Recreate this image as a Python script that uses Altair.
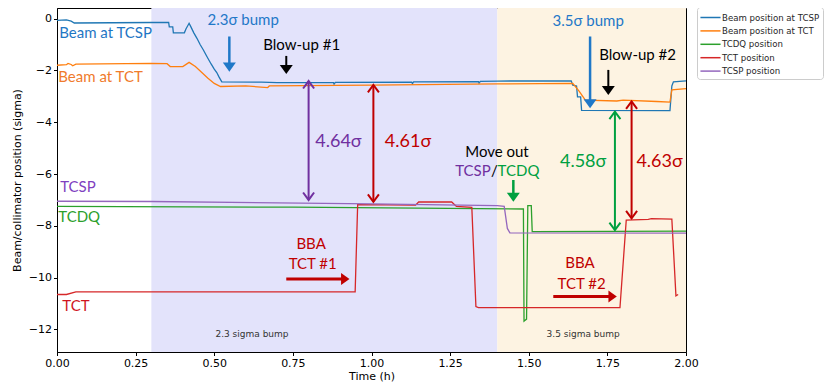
import altair as alt
import pandas as pd

# ---------------- data ----------------
series_names = ["Beam position at TCSP", "Beam position at TCT", "TCDQ position",
                "TCT position", "TCSP position"]
series_colors = ["#1f77b4", "#ff7f0e", "#2ca02c", "#d62728", "#9467bd"]

beam_tcsp_t = [0.0, 0.03, 0.045, 0.055, 0.30, 0.355, 0.357, 0.368, 0.370, 0.405, 0.41, 0.42,
               0.425, 0.435, 0.445, 0.455, 0.465, 0.477, 0.49, 0.50, 0.508, 0.515, 0.524,
               0.65, 0.70, 0.879, 0.881, 0.885, 1.128, 1.13, 1.134, 1.34, 1.342, 1.346,
               1.40, 1.635, 1.64, 1.652, 1.655, 1.665, 1.668, 1.949, 1.955, 1.96, 2.0]
beam_tcsp_y = [-0.07, -0.05, -0.10, -0.17, -0.15, -0.15, -0.32, -0.32, -0.55, -0.55, -0.40, -0.18,
               -0.30, -0.55, -0.76, -1.00, -1.20, -1.47, -1.75, -1.95, -2.08, -2.25, -2.44,
               -2.45, -2.47, -2.47, -2.53, -2.46, -2.45, -2.51, -2.44, -2.43, -2.49, -2.42,
               -2.41, -2.40, -2.57, -2.60, -3.02, -3.02, -3.54, -3.55, -2.60, -2.44, -2.40]

beam_tct_t = [0.0, 0.03, 0.035, 0.045, 0.05, 0.06, 0.30, 0.35, 0.36, 0.40, 0.42, 0.44, 0.48,
              0.50, 0.52, 0.60, 0.67, 0.675, 1.0, 1.40, 1.64, 1.66, 1.68, 1.78, 1.80, 1.907,
              1.949, 1.955, 2.0]
beam_tct_y = [-1.80, -1.78, -1.73, -1.77, -1.82, -1.76, -1.73, -1.74, -1.85, -1.85, -1.69, -1.85,
              -2.30, -2.50, -2.62, -2.60, -2.66, -2.60, -2.57, -2.52, -2.50, -2.80, -3.15,
              -3.18, -3.15, -3.20, -3.22, -2.75, -2.70]

tcdq_t = [0.0, 0.75, 1.483, 1.485, 1.493, 1.497, 1.508, 1.511, 2.0]
tcdq_y = [-7.25, -7.28, -7.35, -11.68, -11.60, -7.22, -7.22, -8.22, -8.20]

tct_t = [0.0, 0.03, 0.06, 0.948, 0.956, 1.14, 1.15, 1.255, 1.27, 1.319, 1.332, 1.34, 1.79,
         1.81, 1.88, 1.89, 1.955, 1.968, 1.975]
tct_y = [-10.65, -10.65, -10.55, -10.55, -7.18, -7.20, -7.08, -7.08, -7.25, -7.29, -11.12,
         -11.16, -11.16, -7.78, -7.75, -7.72, -7.74, -10.70, -10.65]

tcsp_t = [0.0, 0.30, 1.0, 1.40, 1.422, 1.432, 1.44, 2.0]
tcsp_y = [-7.05, -7.06, -7.15, -7.22, -7.25, -8.10, -8.27, -8.28]

# shaded regions
region_start = [0.3, 1.4]
region_end = [1.4, 2.0]
region_color = ["#e3e3fb", "#fdf3e2"]
region_label = ["2.3 sigma bump", "3.5 sigma bump"]
region_label_x = [0.62, 1.673]
region_label_y = [-12.17, -12.17]

# annotation arrows
arrow_x0 = [0.548, 0.729, 0.800, 1.006, 1.451, 1.695, 1.753, 1.774, 1.827, 0.729, 1.578]
arrow_y0 = [-0.69, -1.44, -2.41, -2.56, -6.23, -0.69, -1.98, -3.59, -3.20, -10.05, -10.73]
arrow_x1 = [0.548, 0.729, 0.800, 1.006, 1.451, 1.695, 1.753, 1.774, 1.827, 0.930, 1.780]
arrow_y1 = [-2.05, -2.14, -7.00, -7.07, -7.07, -3.46, -2.95, -8.16, -7.71, -10.05, -10.73]
arrow_color = ["#1f78c8", "#000000", "#7030a0", "#c00000", "#00a040", "#1f78c8", "#000000",
               "#00a040", "#c00000", "#c00000", "#c00000"]
arrow_width = [2.5, 2, 2, 2, 2.5, 2.5, 2, 2, 2, 3, 3]
arrow_kind = ["down", "down", "double", "double", "down", "down", "down", "double", "double",
              "right", "right"]

# annotation texts
text_str = ["2.3σ bump", "Blow-up #1", "4.64σ", "4.61σ", "Move out", "3.5σ bump", "Blow-up #2",
            "4.58σ", "4.63σ", "BBA", "TCT #1", "BBA", "TCT #2", "/"]
text_x = [0.592, 0.778, 0.895, 1.116, 1.399, 1.689, 1.846, 1.673, 1.916, 0.808, 0.813, 1.663,
          1.668, 1.391]
text_y = [-0.05, -1.02, -4.75, -4.75, -5.13, -0.08, -1.40, -5.52, -5.52, -8.71, -9.47, -9.44,
          -10.24, -5.88]
text_color = ["#1f78c8", "#000000", "#7030a0", "#c00000", "#000000", "#1f78c8", "#000000",
              "#00a040", "#c00000", "#c00000", "#c00000", "#c00000", "#c00000", "#000000"]
text_size = [15, 15, 18, 18, 15, 15, 15, 18, 18, 15, 15, 15, 15, 15]

left_text = ["Beam at TCSP", "Beam at TCT", "TCSP", "TCDQ", "TCT", "TCDQ"]
left_x = [0.007, 0.004, 0.010, 0.004, 0.017, 1.401]
left_y = [-0.56, -2.26, -6.49, -7.67, -11.09, -5.88]
left_color = ["#1f77c4", "#f07b2c", "#7f3fbf", "#2ca02c", "#d0141e", "#00a040"]

right_text = ["TCSP"]
right_x = [1.379]
right_y = [-5.88]
right_color = ["#7030a0"]

x_ticks = [0.0, 0.25, 0.5, 0.75, 1.0, 1.25, 1.5, 1.75, 2.0]
y_ticks = [0, -2, -4, -6, -8, -10, -12]
x_domain = [0.0, 2.0]
y_domain = [-12.87, 0.41]
x_title = "Time (h)"
y_title = "Beam/collimator position (sigma)"

# ---------------- build tables ----------------
rows = []
for name, ts, ys in zip(series_names,
                        [beam_tcsp_t, beam_tct_t, tcdq_t, tct_t, tcsp_t],
                        [beam_tcsp_y, beam_tct_y, tcdq_y, tct_y, tcsp_y]):
    for i, (t, v) in enumerate(zip(ts, ys)):
        rows.append({"series": name, "t": t, "v": v, "i": i})
lines_df = pd.DataFrame(rows)

regions_df = pd.DataFrame({"x0": region_start, "x1": region_end, "c": region_color})
rlabel_df = pd.DataFrame({"x": region_label_x, "y": region_label_y, "txt": region_label})

# shafts end inside the filled heads
shaft_x1, shaft_y1 = [], []
for x1, y1, k in zip(arrow_x1, arrow_y1, arrow_kind):
    if k == "down":
        shaft_x1.append(x1); shaft_y1.append(y1 + 0.25)
    elif k == "right":
        shaft_x1.append(x1 - 0.018); shaft_y1.append(y1)
    else:
        shaft_x1.append(x1); shaft_y1.append(y1)
shaft_df = pd.DataFrame({"x": arrow_x0, "y": arrow_y0, "x2": shaft_x1, "y2": shaft_y1,
                         "c": arrow_color, "w": arrow_width})

head_down = pd.DataFrame([{"x": x1, "y": y1, "c": c} for x1, y1, c, k in
                          zip(arrow_x1, arrow_y1, arrow_color, arrow_kind) if k == "down"])
head_right = pd.DataFrame([{"x": x1, "y": y1, "c": c} for x1, y1, c, k in
                           zip(arrow_x1, arrow_y1, arrow_color, arrow_kind) if k == "right"])
head_dbl_down = pd.DataFrame([{"x": x1, "y": y1, "c": c} for x1, y1, c, k in
                              zip(arrow_x1, arrow_y1, arrow_color, arrow_kind) if k == "double"])
head_dbl_up = pd.DataFrame([{"x": x0, "y": y0, "c": c} for x0, y0, c, k in
                            zip(arrow_x0, arrow_y0, arrow_color, arrow_kind) if k == "double"])

text_df = pd.DataFrame({"x": text_x, "y": text_y, "txt": text_str, "c": text_color,
                        "s": text_size})
left_df = pd.DataFrame({"x": left_x, "y": left_y, "txt": left_text, "c": left_color})
right_df = pd.DataFrame({"x": right_x, "y": right_y, "txt": right_text, "c": right_color})

# ---------------- scales / axes ----------------
xs = alt.Scale(domain=x_domain, nice=False, zero=False)
ys = alt.Scale(domain=y_domain, nice=False, zero=False)
x_axis = alt.Axis(values=x_ticks, format=".2f", grid=False, labelFlush=False)
y_axis = alt.Axis(values=y_ticks, format="d", grid=False, labelFlush=False)
X = lambda f: alt.X(f, type="quantitative", scale=xs, title=x_title, axis=x_axis)
Y = lambda f: alt.Y(f, type="quantitative", scale=ys, title=y_title, axis=y_axis)

regions = alt.Chart(regions_df).mark_rect(opacity=1).encode(
    x=X("x0:Q"), x2="x1:Q",
    color=alt.Color("c:N", scale=None),
)

rlabels = alt.Chart(rlabel_df).mark_text(font="DejaVu Sans", fontSize=9, color="#333333",
                                          align="center", baseline="middle").encode(
    x=X("x:Q"), y=Y("y:Q"), text="txt:N")

lines = alt.Chart(lines_df).mark_line(strokeWidth=1.3).encode(
    x=X("t:Q"),
    y=Y("v:Q"),
    color=alt.Color("series:N", scale=alt.Scale(domain=series_names, range=series_colors),
                    legend=alt.Legend(orient="none", legendX=640, legendY=-1, title=None,
                                      symbolType="M-1.5,0L1.5,0", symbolSize=180,
                                      symbolStrokeWidth=1.5, symbolOffset=3,
                                      labelFont="DejaVu Sans", labelFontSize=8.6,
                                      labelColor="#262626", labelOffset=4, labelLimit=300,
                                      strokeColor="#cccccc", fillColor="white", padding=3,
                                      cornerRadius=3, rowPadding=0.4)),
    order="i:Q",
)

shafts = alt.Chart(shaft_df).mark_rule(strokeCap="butt").encode(
    x=X("x:Q"), y=Y("y:Q"), x2="x2:Q", y2="y2:Q",
    color=alt.Color("c:N", scale=None), strokeWidth=alt.StrokeWidth("w:Q", scale=None))

def head(df, shape, size, filled):
    return alt.Chart(df).mark_point(shape=shape, size=size, filled=filled, opacity=1,
                                    strokeWidth=0 if filled else 2).encode(
        x=X("x:Q"), y=Y("y:Q"), color=alt.Color("c:N", scale=None))

h_down = head(head_down, "M-1,-1.4L1,-1.4L0,0Z", 169, True)
h_right = head(head_right, "M-1.4,-1L-1.4,1L0,0Z", 144, True)
h_dd = head(head_dbl_down, "M-1,-1.35L0,0L1,-1.35", 121, False)
h_du = head(head_dbl_up, "M-1,1.35L0,0L1,1.35", 121, False)

texts = alt.Chart(text_df).mark_text(font="Lato", align="center", baseline="middle").encode(
    x=X("x:Q"), y=Y("y:Q"), text="txt:N", color=alt.Color("c:N", scale=None),
    size=alt.Size("s:Q", scale=None))
ltexts = alt.Chart(left_df).mark_text(font="Lato", fontSize=15, align="left",
                                      baseline="middle").encode(
    x=X("x:Q"), y=Y("y:Q"), text="txt:N", color=alt.Color("c:N", scale=None))
rtexts = alt.Chart(right_df).mark_text(font="Lato", fontSize=15, align="right",
                                       baseline="middle").encode(
    x=X("x:Q"), y=Y("y:Q"), text="txt:N", color=alt.Color("c:N", scale=None))

chart = alt.layer(regions, rlabels, lines, shafts, h_down, h_right, h_dd, h_du,
                  texts, ltexts, rtexts).properties(
    width=629, height=344,
    padding={"left": 49, "top": 0, "right": 140, "bottom": 32},
    autosize=alt.AutoSizeParams(type="none"),
).configure_view(stroke="#000000", strokeWidth=1).configure_axis(
    labelFont="DejaVu Sans", labelFontSize=11, labelColor="#000000",
    titleFont="DejaVu Sans", titleFontSize=11, titleFontWeight="normal", titleColor="#000000",
    tickColor="#000000", tickSize=3.5, domainColor="#000000", labelPadding=2,
).configure_axisX(titlePadding=2).configure_axisY(titlePadding=6)

chart.save("out.html", embed_options={"renderer": "svg", "actions": False})
